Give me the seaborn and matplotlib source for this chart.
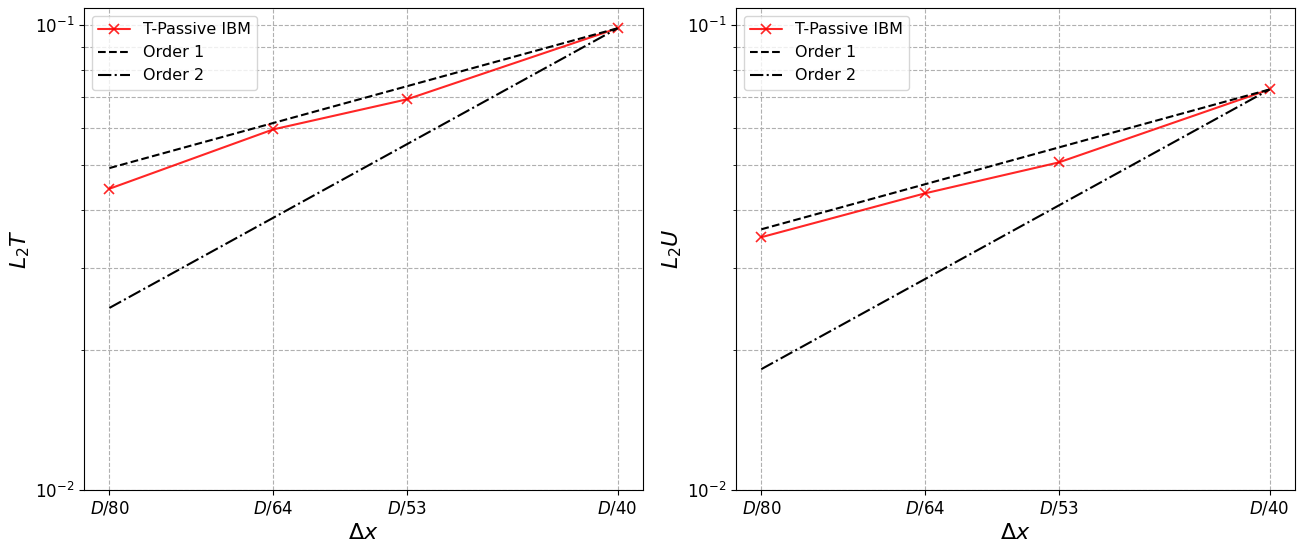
import numpy as np
import pandas as pd
import seaborn as sns
import matplotlib
matplotlib.use('Agg')
import matplotlib.pyplot as plt
from matplotlib.ticker import NullFormatter, FixedLocator

sns.set_style('ticks', {'axes.edgecolor': 'black', 'text.color': 'black',
						'axes.labelcolor': 'black', 'xtick.color': 'black',
						'ytick.color': 'black'})
plt.rcParams['font.family'] = ['DejaVu Sans']

# resolution N (dx = D/N)
n_cells = [80, 64, 53.33, 40]
tick_labels = ['$D/80$', '$D/64$', '$D/53$', '$D/40$']

# errors
err_T = [0.0445, 0.0597, 0.0693, 0.0986]
err_U = [0.0350, 0.0435, 0.0507, 0.0728]

# reference slopes, values at D/80 and D/40
order_n = [80, 40]
order1_T = [0.0493, 0.0986]
order2_T = [0.02465, 0.0986]
order1_U = [0.0364, 0.0728]
order2_U = [0.0182, 0.0728]


def panel(ax, err, o1, o2, ylab):
	dx = 1.0 / np.array(n_cells)
	dxo = 1.0 / np.array(order_n)
	sns.lineplot(x=dx, y=err, ax=ax, color='red', alpha=0.85, marker='x',
				 markersize=7, markeredgewidth=1.2, markeredgecolor='red',
				 label='T-Passive IBM', sort=False)
	sns.lineplot(x=dxo, y=o1, ax=ax, color='black', linestyle='--', label='Order 1', sort=False)
	sns.lineplot(x=dxo, y=o2, ax=ax, color='black', linestyle='-.', label='Order 2', sort=False)
	ax.set_xscale('log')
	ax.set_yscale('log')
	ax.set_ylim(1e-2, 0.109)
	ax.xaxis.set_major_locator(FixedLocator(dx))
	ax.xaxis.set_minor_locator(FixedLocator([]))
	ax.set_xticklabels(tick_labels, fontsize=12)
	ax.yaxis.set_minor_formatter(NullFormatter())
	ax.tick_params(axis='y', which='major', labelsize=12)
	ax.grid(True, which='both', linestyle='--', color='#b0b0b0', linewidth=0.8)
	ax.set_xlabel(r'$\Delta x$', fontsize=16)
	ax.set_ylabel(ylab, fontsize=16, labelpad=2)
	ax.legend(loc='upper left', fontsize=11.5)


fig, axes = plt.subplots(1, 2, figsize=(12.98, 5.44), dpi=100)
fig.subplots_adjust(left=0.0647, right=0.9977, bottom=0.0993, top=0.9853, wspace=0.166)

panel(axes[0], err_T, order1_T, order2_T, '$L_2T$')
panel(axes[1], err_U, order1_U, order2_U, '$L_2U$')

plt.savefig('out.png', dpi=100)
